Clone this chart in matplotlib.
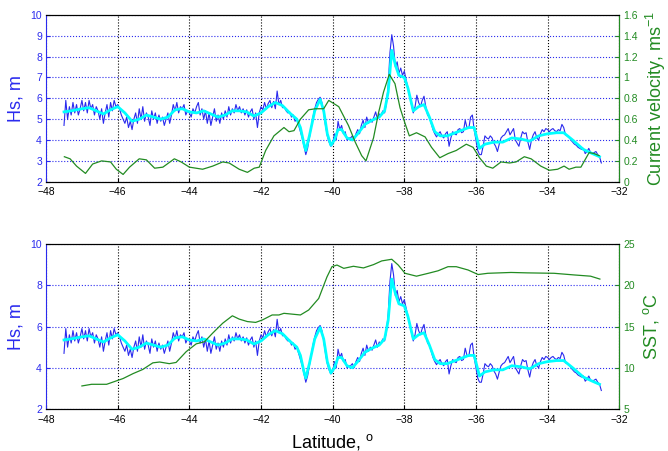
import numpy as np
import matplotlib
matplotlib.use('Agg')
import matplotlib.pyplot as plt

plt.rcParams['font.family'] = ['Liberation Sans', 'DejaVu Sans']
plt.rcParams['mathtext.default'] = 'regular'

# Significant wave height along track, sampled every 0.05 deg from -47.5 to -32.5
hs_lat = np.round(np.arange(-47.5, -32.49, 0.05), 2)
hs = [
    # -47.50 .. -46.55
    4.7, 5.9, 5.0, 5.6, 5.2, 5.8, 5.3, 5.7, 5.2, 5.5, 5.9, 5.4, 5.8, 5.3, 5.9, 5.5, 5.7, 5.2, 5.6, 5.4,
    # -46.50 .. -45.55
    5.0, 5.5, 4.8, 5.3, 5.7, 5.1, 5.8, 5.4, 5.9, 5.6, 5.7, 5.5, 5.2, 5.0, 4.8, 5.1, 4.6, 4.9, 4.5, 5.0,
    # -45.50 .. -44.55
    5.3, 4.8, 5.5, 5.0, 5.6, 4.9, 5.3, 5.1, 4.7, 5.4, 5.0, 5.3, 4.8, 5.2, 4.9, 5.1, 4.7, 5.0, 5.3, 4.8,
    # -44.50 .. -43.55
    5.2, 5.7, 5.4, 5.8, 5.3, 5.6, 5.5, 5.7, 5.2, 5.4, 5.3, 5.1, 5.5, 5.3, 5.6, 5.8, 5.2, 5.5, 5.0, 5.4,
    # -43.50 .. -42.55
    4.8, 5.3, 4.7, 5.1, 5.5, 4.9, 5.2, 4.8, 5.3, 5.0, 5.4, 5.1, 5.6, 5.2, 5.5, 5.3, 5.7, 5.4, 5.6, 5.3,
    # -42.50 .. -41.55
    5.5, 5.2, 5.45, 5.1, 5.35, 5.5, 5.0, 5.3, 4.6, 5.3, 5.6, 5.45, 5.8, 5.5, 5.75, 5.9, 5.55, 5.85, 5.5, 6.35,
    # -41.50 .. -40.55
    5.7, 5.9, 5.55, 5.6, 5.4, 5.3, 5.35, 5.1, 5.2, 4.9, 5.0, 4.7, 4.4, 4.1, 3.7, 3.3, 3.6, 4.1, 4.6, 5.1,
    # -40.50 .. -39.55
    5.5, 5.8, 5.95, 6.05, 5.8, 5.3, 4.7, 4.2, 3.9, 3.7, 3.8, 4.3, 4.0, 4.9, 4.5, 4.7, 4.3, 4.4, 4.0, 4.1,
    # -39.50 .. -38.55
    4.1, 4.2, 4.0, 4.3, 4.5, 4.3, 4.7, 4.95, 4.6, 5.1, 4.8, 5.0, 4.85, 5.1, 5.35, 5.0, 5.25, 5.2, 5.4, 5.3,
    # -38.50 .. -37.55
    5.75, 6.6, 8.2, 9.05, 8.5, 7.5, 7.75, 7.2, 7.45, 7.1, 7.3, 6.9, 6.5, 6.1, 5.7, 5.3, 5.6, 6.15, 5.8, 5.6,
    # -37.50 .. -36.55
    5.9, 6.1, 5.6, 5.2, 5.1, 4.8, 4.5, 4.3, 4.15, 4.3, 4.4, 4.2, 4.1, 4.3, 4.4, 3.7, 4.1, 4.4, 4.3, 4.25,
    # -36.50 .. -35.55
    4.5, 4.55, 4.35, 4.4, 4.95, 4.6, 4.55, 5.1, 5.2, 4.5, 4.0, 3.5, 3.3, 3.3, 3.7, 4.2, 4.1, 4.05, 4.2, 4.1,
    # -35.50 .. -34.55
    3.85, 3.7, 3.45, 3.8, 4.1, 4.2, 4.25, 4.4, 4.55, 4.25, 4.4, 4.55, 4.0, 3.85, 3.7, 4.1, 4.4, 4.3, 4.35, 3.9,
    # -34.50 .. -33.55
    3.55, 4.0, 4.25, 4.4, 4.1, 4.0, 4.3, 4.5, 4.4, 4.55, 4.5, 4.4, 4.5, 4.55, 4.45, 4.4, 4.5, 4.45, 4.75, 4.6,
    # -33.50 .. -32.55
    4.25, 4.2, 4.15, 4.0, 3.9, 3.8, 3.75, 3.65, 3.6, 3.55, 3.6, 3.35, 3.45, 3.6, 3.4, 3.35, 3.4, 3.45, 3.3, 3.2,
    # -32.50
    2.9,
]

# Smoothed Hs
smooth_lat = [-47.5, -47.3, -47.0, -46.8, -46.6, -46.4, -46.2, -46.0, -45.8, -45.6, -45.4, -45.2,
              -45.0, -44.8, -44.6, -44.4, -44.2, -44.0, -43.8, -43.6, -43.4, -43.2, -43.0, -42.8,
              -42.6, -42.4, -42.2, -42.0, -41.8, -41.6, -41.4, -41.2, -41.0, -40.9, -40.8, -40.75,
              -40.65, -40.5, -40.35, -40.25, -40.15, -40.05, -39.95, -39.85, -39.75, -39.6, -39.45,
              -39.3, -39.1, -38.9, -38.7, -38.55, -38.45, -38.35, -38.25, -38.15, -38.0, -37.9,
              -37.75, -37.6, -37.45, -37.3, -37.15, -37.0, -36.8, -36.5, -36.2, -36.05, -35.9,
              -35.75, -35.5, -35.25, -35.0, -34.75, -34.5, -34.25, -34.0, -33.75, -33.55, -33.3,
              -33.0, -32.75, -32.55]
smooth_hs = [5.35, 5.4, 5.5, 5.55, 5.4, 5.25, 5.45, 5.6, 5.3, 4.9, 5.0, 5.2,
             5.1, 5.0, 5.1, 5.45, 5.5, 5.35, 5.3, 5.4, 5.25, 5.1, 5.2, 5.4,
             5.4, 5.35, 5.15, 5.3, 5.6, 5.8, 5.65, 5.3, 5.0, 4.6, 3.8, 3.5,
             4.2, 5.4, 5.95, 5.4, 4.3, 3.75, 4.0, 4.5, 4.5, 4.1, 4.0,
             4.3, 4.75, 4.95, 5.1, 5.4, 6.3, 8.3, 7.6, 7.1, 7.0, 6.5,
             5.4, 5.6, 5.7, 5.1, 4.4, 4.2, 4.2, 4.4, 4.6, 4.6, 3.6,
             3.8, 3.9, 3.9, 4.1, 4.05, 3.95, 4.2, 4.3, 4.35, 4.35, 4.0,
             3.55, 3.35, 3.2]

# Surface current velocity (m/s)
cur_lat = [-47.49, -47.33, -47.15, -46.9, -46.7, -46.45, -46.2, -46.04, -45.85, -45.67, -45.4,
           -45.2, -44.97, -44.74, -44.42, -44.23, -44.0, -43.63, -43.35, -43.07, -42.89, -42.61,
           -42.38, -42.19, -42.05, -41.87, -41.64, -41.36, -41.22, -41.08, -40.9, -40.67, -40.48,
           -40.25, -40.11, -39.83, -39.56, -39.37, -39.19, -39.07, -38.86, -38.72, -38.58, -38.42,
           -38.26, -38.12, -37.98, -37.86, -37.66, -37.42, -37.24, -37.01, -36.78, -36.55, -36.27,
           -36.08, -35.9, -35.71, -35.53, -35.3, -35.06, -34.88, -34.65, -34.46, -34.19, -33.95,
           -33.72, -33.54, -33.4, -33.21, -33.07, -32.84, -32.7, -32.56]
cur_vel = [0.24, 0.22, 0.15, 0.08, 0.17, 0.2, 0.19, 0.12, 0.07, 0.14, 0.22,
           0.21, 0.13, 0.14, 0.22, 0.19, 0.14, 0.12, 0.15, 0.19, 0.18, 0.12,
           0.09, 0.13, 0.14, 0.3, 0.44, 0.52, 0.48, 0.49, 0.6, 0.69, 0.7,
           0.7, 0.78, 0.72, 0.54, 0.38, 0.25, 0.2, 0.42, 0.66, 0.86, 1.03,
           0.94, 0.71, 0.56, 0.44, 0.47, 0.43, 0.33, 0.23, 0.27, 0.3, 0.36,
           0.33, 0.23, 0.15, 0.13, 0.19, 0.18, 0.19, 0.24, 0.22, 0.15, 0.11,
           0.12, 0.15, 0.12, 0.14, 0.14, 0.28, 0.27, 0.25]

# Sea surface temperature (deg C)
sst_lat = [-47.0, -46.73, -46.31, -46.08, -45.85, -45.57, -45.3, -45.02, -44.83, -44.56, -44.37,
           -44.09, -43.81, -43.58, -43.35, -43.07, -42.8, -42.61, -42.38, -42.15, -41.96, -41.69,
           -41.5, -41.36, -41.13, -40.9, -40.67, -40.39, -40.16, -40.02, -39.88, -39.69, -39.42,
           -39.14, -38.86, -38.63, -38.35, -38.17, -37.98, -37.66, -37.33, -37.06, -36.78, -36.55,
           -36.22, -35.94, -35.67, -35.02, -34.56, -33.82, -33.26, -32.8, -32.54]
sst = [7.8, 8.0, 8.0, 8.35, 8.7, 9.3, 9.8, 10.6, 10.7, 10.5, 10.65,
       11.95, 12.9, 13.15, 14.2, 15.4, 16.3, 15.9, 15.6, 15.5, 15.8, 16.4,
       16.4, 16.6, 16.5, 16.4, 17.0, 18.4, 21.0, 22.25, 22.45, 22.05, 22.3,
       22.1, 22.5, 22.95, 23.15, 22.45, 21.45, 21.1, 21.45, 21.75, 22.25, 22.25,
       21.85, 21.3, 21.45, 21.55, 21.5, 21.45, 21.25, 21.1, 20.75]

BLUE = '#2a2aee'
CYAN = '#00ffff'
GREEN = '#228b22'


def style_axes(ax, yticks):
    ax.set_xlim(-48, -32)
    ax.set_xticks(range(-48, -31, 2))
    ax.set_yticks(yticks)
    ax.tick_params(direction='in', labelsize=7.5, length=3)
    ax.tick_params(axis='y', colors=BLUE, pad=3)
    ax.tick_params(axis='x', pad=4)
    ax.spines['left'].set_color(BLUE)
    ax.xaxis.grid(True, color='black', linestyle=':', linewidth=0.8)
    ax.yaxis.grid(True, color=BLUE, linestyle=':', linewidth=0.8)
    ax.set_ylabel('Hs, m', color=BLUE, fontsize=13, labelpad=4)


def style_right(ax2, lim, ticks, label):
    ax2.set_ylim(*lim)
    ax2.set_yticks(ticks)
    ax2.tick_params(direction='in', labelsize=7.5, length=3, colors=GREEN, pad=3)
    ax2.spines['right'].set_color(GREEN)
    ax2.spines['left'].set_visible(False)
    ax2.set_ylabel(label, color=GREEN, fontsize=13, labelpad=4)


fig = plt.figure(figsize=(6.68, 4.51), dpi=100)
ax1 = fig.add_axes([0.069, 0.597, 0.858, 0.370])
ax3 = fig.add_axes([0.069, 0.093, 0.858, 0.366])

# top panel: Hs and current velocity
ax1.plot(hs_lat, hs, color=BLUE, linewidth=0.8)
ax1.plot(smooth_lat, smooth_hs, color=CYAN, linewidth=2)
ax1.set_ylim(2, 10)
style_axes(ax1, range(2, 11))
ax2 = ax1.twinx()
ax2.plot(cur_lat, cur_vel, color=GREEN, linewidth=0.9)
style_right(ax2, (0, 1.6), [0, 0.2, 0.4, 0.6, 0.8, 1, 1.2, 1.4, 1.6],
            'Current velocity, ms$^{-1}$')
ax2.set_yticklabels(['0', '0.2', '0.4', '0.6', '0.8', '1', '1.2', '1.4', '1.6'])

# bottom panel: Hs and SST
ax3.plot(hs_lat, hs, color=BLUE, linewidth=0.8)
ax3.plot(smooth_lat, smooth_hs, color=CYAN, linewidth=2)
ax3.set_ylim(2, 10)
style_axes(ax3, range(2, 11, 2))
ax4 = ax3.twinx()
ax4.plot(sst_lat, sst, color=GREEN, linewidth=0.9)
style_right(ax4, (5, 25), range(5, 26, 5), 'SST, $^{o}$C')
ax3.set_xlabel('Latitude, $^{o}$', fontsize=13, labelpad=5)

fig.savefig('out.png', dpi=100)
